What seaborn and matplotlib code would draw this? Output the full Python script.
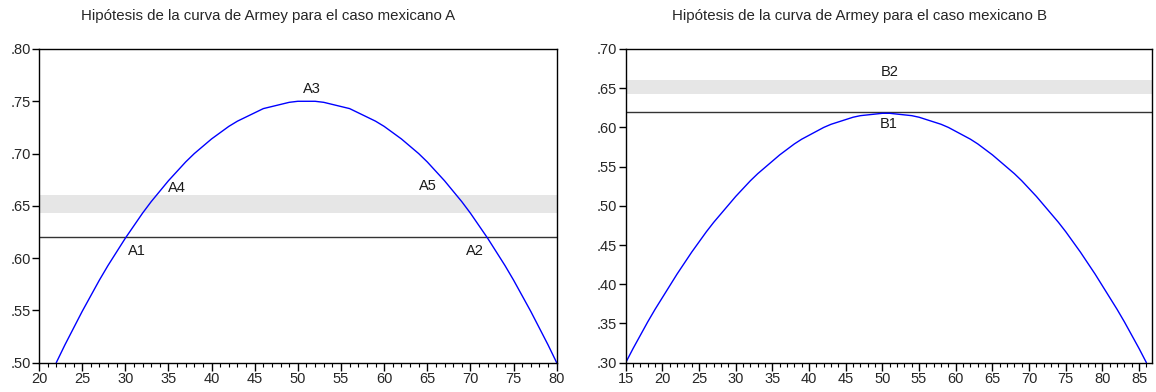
import numpy as np
import pandas as pd
import matplotlib
matplotlib.use("Agg")
import matplotlib.pyplot as plt
import seaborn as sns
from matplotlib.ticker import MultipleLocator, FuncFormatter

sns.set_theme(style="white")
plt.rcParams['font.family'] = ['Liberation Sans', 'DejaVu Sans']

# ---- data ----
x_a = list(range(22, 81))
y_a = [0.500, 0.517, 0.533, 0.549, 0.564, 0.579, 0.593, 0.606, 0.619, 0.631,
       0.643, 0.654, 0.664, 0.674, 0.683, 0.692, 0.700, 0.707, 0.714, 0.720,
       0.726, 0.731, 0.735, 0.739, 0.743, 0.745, 0.747, 0.749, 0.750, 0.750,
       0.750, 0.749, 0.747, 0.745, 0.743, 0.739, 0.735, 0.731, 0.726, 0.720,
       0.714, 0.707, 0.700, 0.692, 0.683, 0.674, 0.664, 0.654, 0.643, 0.631,
       0.619, 0.606, 0.593, 0.579, 0.564, 0.549, 0.533, 0.517, 0.500]

x_b = list(range(15, 87))
y_b = [0.300, 0.318, 0.335, 0.352, 0.368, 0.383, 0.398, 0.413, 0.427, 0.441,
       0.454, 0.467, 0.479, 0.490, 0.501, 0.512, 0.522, 0.532, 0.541, 0.549,
       0.557, 0.565, 0.572, 0.579, 0.585, 0.590, 0.595, 0.600, 0.604, 0.607,
       0.610, 0.613, 0.615, 0.616, 0.617, 0.618,
       0.618, 0.617, 0.616, 0.615, 0.613, 0.610, 0.607, 0.604, 0.600, 0.595,
       0.590, 0.585, 0.579, 0.572, 0.565, 0.557, 0.549, 0.541, 0.532, 0.522,
       0.512, 0.501, 0.490, 0.479, 0.467, 0.454, 0.441, 0.427, 0.413, 0.398,
       0.383, 0.368, 0.352, 0.335, 0.318, 0.300]

threshold = 0.62
band_low, band_high = 0.643, 0.660

labels_a = ["A1", "A2", "A3", "A4", "A5"]
labels_a_x = [31.3, 70.5, 51.6, 36.0, 65.1]
labels_a_y = [0.607, 0.607, 0.762, 0.667, 0.669]

labels_b = ["B1", "B2"]
labels_b_x = [50.8, 51.0]
labels_b_y = [0.604, 0.671]

title_a = "Hipótesis de la curva de Armey para el caso mexicano A"
title_b = "Hipótesis de la curva de Armey para el caso mexicano B"

df_a = pd.DataFrame({"x": x_a, "y": y_a})
df_b = pd.DataFrame({"x": x_b, "y": y_b})

fig = plt.figure(figsize=(11.56, 3.92), dpi=100)
ax1 = fig.add_axes([39 / 1156, 1 - 362.7 / 392, (556.7 - 39) / 1156, (362.7 - 49) / 392])
ax2 = fig.add_axes([625.7 / 1156, 1 - 362.7 / 392, (1152.3 - 625.7) / 1156, (362.7 - 49) / 392])

fmt = FuncFormatter(lambda v, p: ("%.2f" % v).lstrip("0"))


def style(ax, xlim, ylim, xmaj, ymaj):
    ax.set_xlim(*xlim)
    ax.set_ylim(*ylim)
    ax.xaxis.set_major_locator(MultipleLocator(xmaj))
    ax.xaxis.set_minor_locator(MultipleLocator(1))
    ax.yaxis.set_major_locator(MultipleLocator(ymaj))
    ax.yaxis.set_major_formatter(fmt)
    ax.tick_params(axis="x", which="major", direction="out", length=6, width=1,
                   color="black", labelsize=10.5, pad=1, bottom=True)
    ax.tick_params(axis="x", which="minor", direction="out", length=3, width=0.8,
                   color="black", bottom=True)
    ax.tick_params(axis="y", which="major", direction="out", length=5, width=1,
                   color="black", labelsize=10.5, pad=1, left=True)
    for s in ax.spines.values():
        s.set_visible(True)
        s.set_color("black")
        s.set_linewidth(1.0)
    ax.set_xlabel("")
    ax.set_ylabel("")
    ax.grid(False)


# Panel A
ax1.axhspan(band_low, band_high, color="#e6e6e6", lw=0, zorder=0)
ax1.axhline(threshold, color="#333333", lw=1.0, zorder=1)
sns.lineplot(data=df_a, x="x", y="y", ax=ax1, color="#0000ff", lw=1.0, sort=False,
             zorder=2)
for t, tx, ty in zip(labels_a, labels_a_x, labels_a_y):
    ax1.text(tx, ty, t, ha="center", va="center", fontsize=10.5, color="#1a1a1a")
style(ax1, (20, 80), (0.50, 0.80), 5, 0.05)

# Panel B
ax2.axhspan(band_low, band_high, color="#e6e6e6", lw=0, zorder=0)
ax2.axhline(threshold, color="#333333", lw=1.0, zorder=1)
sns.lineplot(data=df_b, x="x", y="y", ax=ax2, color="#0000ff", lw=1.0, sort=False,
             zorder=2)
for t, tx, ty in zip(labels_b, labels_b_x, labels_b_y):
    ax2.text(tx, ty, t, ha="center", va="center", fontsize=10.5, color="#1a1a1a")
style(ax2, (15, 86.8), (0.30, 0.70), 5, 0.05)

fig.text(268.5 / 1156, 1 - 16 / 392, title_a, ha="center", va="center", fontsize=10.8)
fig.text(860 / 1156, 1 - 16 / 392, title_b, ha="center", va="center", fontsize=10.8)

fig.savefig("out.png", dpi=100)
